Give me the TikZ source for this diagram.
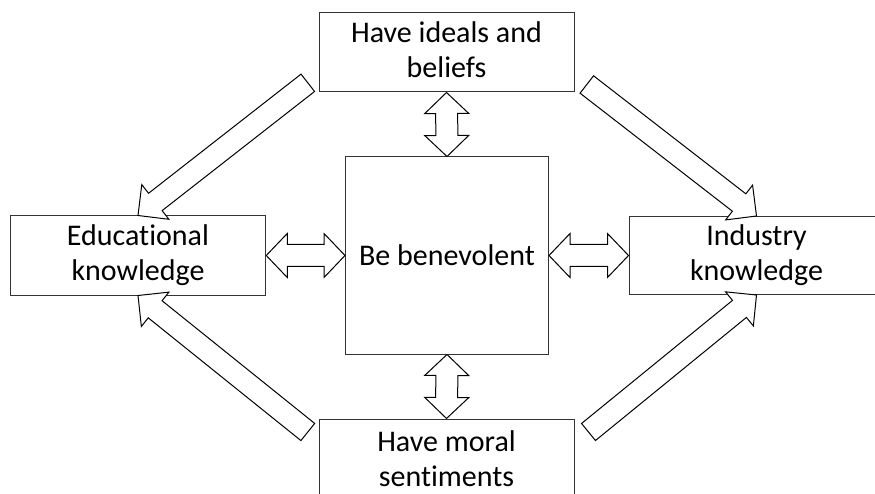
\documentclass[tikz,border=0pt]{standalone}
\usepackage{fontspec}
\setmainfont{Carlito}[RawFeature={-liga}]
\usetikzlibrary{calc}
\tikzset{
  box/.style={draw=black!80, line width=1pt, fill=white, inner sep=0pt, align=center,
    font=\fontsize{30}{35}\selectfont},
  blockarrow/.style={draw=black, line width=1pt, fill=white, line join=miter}
}
\newcommand\dblblock[2]{%
  \coordinate (bkA) at (#1);
  \coordinate (bkB) at (#2);
  \coordinate (bkC) at ($(bkA)!21pt!(bkB)$);
  \coordinate (bkD) at ($(bkB)!21pt!(bkA)$);
  \draw[blockarrow] (bkA) -- ($(bkC)!22pt!90:(bkB)$) -- ($(bkC)!11pt!90:(bkB)$)
    -- ($(bkD)!11pt!-90:(bkA)$) -- ($(bkD)!22pt!-90:(bkA)$) -- (bkB)
    -- ($(bkD)!22pt!90:(bkA)$) -- ($(bkD)!11pt!90:(bkA)$)
    -- ($(bkC)!11pt!-90:(bkB)$) -- ($(bkC)!22pt!-90:(bkB)$) -- cycle;}
\newcommand\sglblock[2]{%
  \coordinate (bkA) at (#1);
  \coordinate (bkB) at (#2);
  \coordinate (bkD) at ($(bkB)!22pt!(bkA)$);
  \draw[blockarrow] (bkB) -- ($(bkD)!22pt!90:(bkA)$) -- ($(bkD)!11pt!90:(bkA)$)
    -- ($(bkA)!11pt!-90:(bkB)$) -- ($(bkA)!11pt!90:(bkB)$)
    -- ($(bkD)!11pt!-90:(bkA)$) -- ($(bkD)!22pt!-90:(bkA)$) -- cycle;}
\begin{document}
\begin{tikzpicture}[x=1pt, y=-1pt]
\clip (0,0) rectangle (875,494);
\fill[white] (0,0) rectangle (875,494);
\node[box, minimum width=255pt, minimum height=79pt] (top) at (446.5,52.5) {Have ideals and\\beliefs\vphantom{g}};
\node[box, minimum width=255pt, minimum height=79pt] (bottom) at (446.5,458.5) {Have moral\\sentiments};
\node[box, minimum width=255.5pt, minimum height=79pt] (left) at (138,255.5) {Educational\\knowledge};
\node[box, minimum width=255pt, minimum height=78pt] (right) at (756.5,255.5) {Industry\\knowledge};
\node[box, minimum width=203pt, minimum height=197pt] (center) at (447,255.5) {Be benevolent};
\dblblock{top.south}{center.north}
\dblblock{center.south}{bottom.north}
\dblblock{left.east}{center.west}
\dblblock{center.east}{right.west}
\coordinate (tlT) at ($(top.south west)+(-10.7,-9.7)$);
\coordinate (trT) at ($(top.south east)+(12.3,-8)$);
\coordinate (blT) at ($(bottom.north west)+(-10.7,13.5)$);
\coordinate (brT) at ($(bottom.north east)+(14,13.5)$);
\sglblock{tlT}{left.north}
\sglblock{trT}{right.north}
\sglblock{blT}{left.south}
\sglblock{brT}{right.south}
\end{tikzpicture}
\end{document}
